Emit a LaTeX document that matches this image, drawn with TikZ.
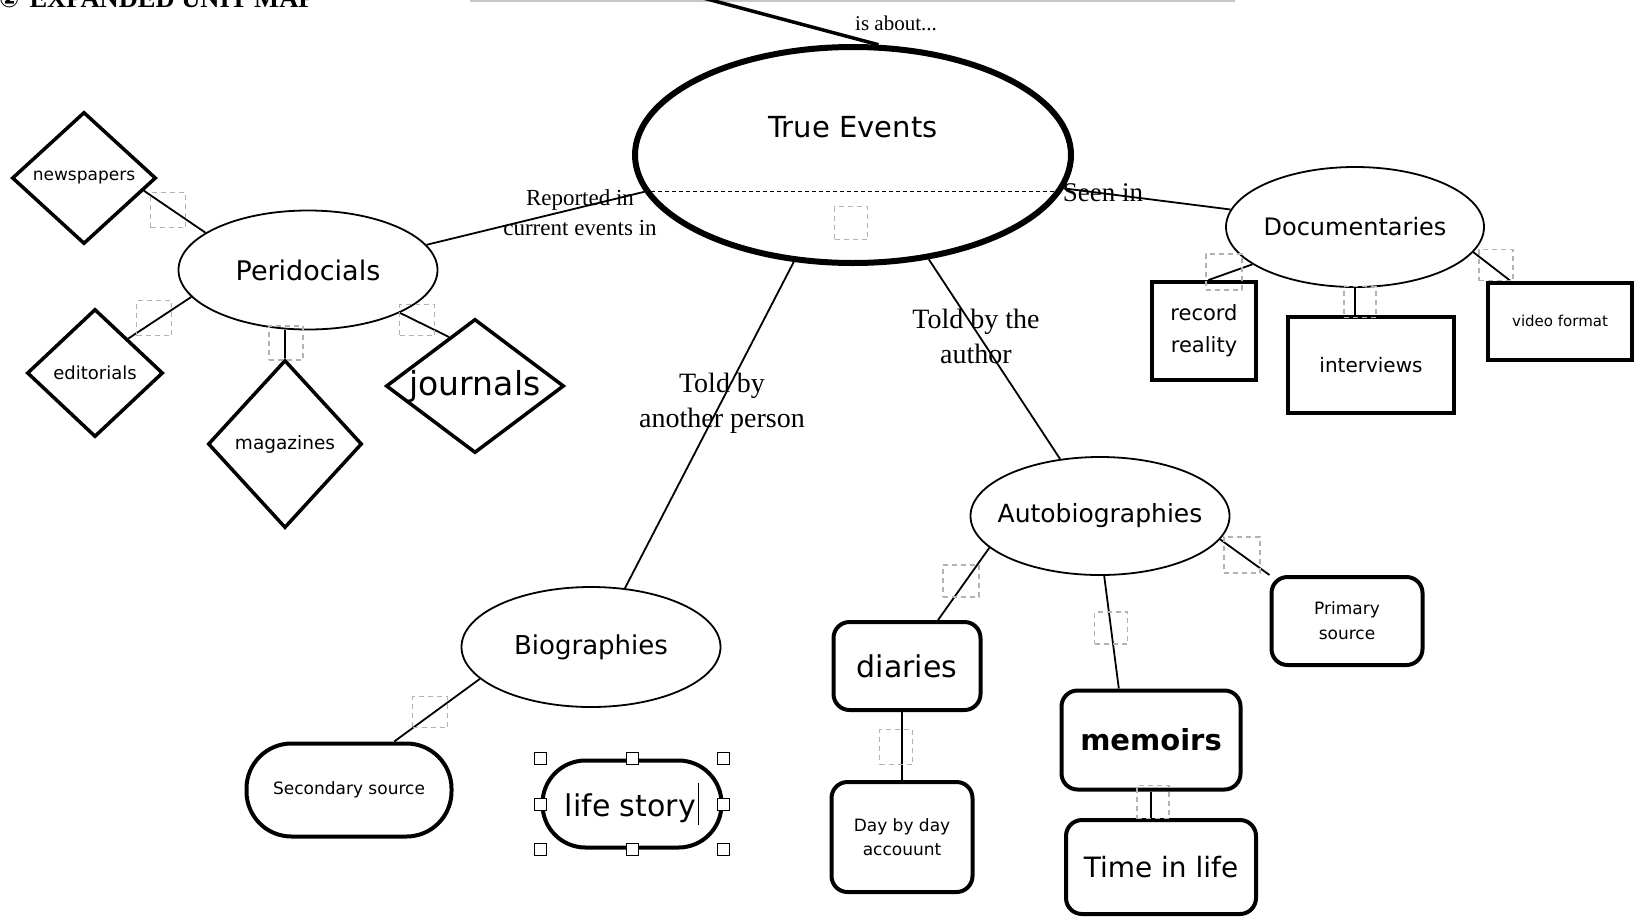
\documentclass[tikz,border=0pt]{standalone}
\usepackage{fontspec}
\setmainfont{DejaVu Sans}
\newfontfamily\lserif{Liberation Serif}
\newfontfamily\dejavu{DejaVu Sans}
\usetikzlibrary{shapes.geometric,calc}
\newcommand\fsz[1]{\fontsize{#1}{#1}\selectfont}
\tikzset{
  every node/.style={inner sep=0pt},
  ell/.style={ellipse, draw, line width=1.8pt},
  dia/.style={diamond, draw, line width=3.5pt},
  box/.style={rectangle, draw, line width=4pt},
  rbox/.style={rectangle, rounded corners=16pt, draw, line width=4pt},
  pill/.style={rectangle, draw, line width=4pt},
  conn/.style={line width=1.8pt},
  hot/.style={rectangle, draw=gray!60, dash pattern=on 5pt off 4pt, line width=1.3pt},
  handle/.style={rectangle, draw, fill=white, line width=1pt, minimum size=12pt},
  lbl/.style={align=center},
}
\begin{document}
\begin{tikzpicture}[x=1pt,y=-1pt]
\fill[white] (0,0) rectangle (1637,916);
\useasboundingbox (0,0) rectangle (1637,916);

% header (cut off at top, as in the reference)
\node[anchor=base west, font=\lserif\bfseries\fsz{26.5}] (hdr) at (-1,7) {{\dejavu\fsz{24}②}\hspace{10pt}EXPANDED UNIT MAP};
\draw[gray!45, line width=2pt] (470,1) -- (1235,1);

% central node
\node[ell, line width=6pt, minimum width=436pt, minimum height=216pt] (te) at (853,155) {};
\node[font=\fsz{29}] (tetext) at (853,127) {True Events};
\draw[dash pattern=on 4pt off 3pt, line width=1.2pt] (te.190) -- (te.350);
\node[hot, minimum width=33pt, minimum height=33pt] (tehs) at (851,223) {};
\coordinate (topend) at (692,-5);
\draw[line width=3.5pt] (topend) -- (te.77);
\node[font=\lserif\fsz{21}] (isabout) at (896,23) {is about...};

% Peridocials
\node[ell, minimum width=259pt, minimum height=119pt, font=\fsz{27}] (perid) at (308,270) {\makebox[0pt]{Peridocials}};
\node[dia, minimum width=144pt, minimum height=132pt, font=\fsz{17}] (news) at (84,178) {\makebox[0pt]{newspapers}};
\node[dia, minimum width=136pt, minimum height=128pt, font=\fsz{18}] (edit) at (95,373) {\makebox[0pt]{editorials}};
\node[dia, minimum width=154pt, minimum height=168pt, font=\fsz{18.5}] (mag) at (285,444) {\makebox[0pt]{magazines}};
\node[dia, minimum width=178pt, minimum height=134pt, font=\fsz{33}] (jour) at (475,386) {\makebox[0pt]{journals}};
\draw[conn] (news.-12) -- (perid.160);
\draw[conn] (edit.46) -- (perid.193);
\draw[conn] (mag.north) -- (mag.north |- perid.south);
\draw[conn] (jour.118) -- (perid.-25);
\node[hot, minimum width=35pt, minimum height=35pt] (hsnews) at (168,210) {};
\node[hot, minimum width=35pt, minimum height=35pt] (hsedit) at (154,318) {};
\node[hot, minimum width=34pt, minimum height=34pt] (hsmag) at (286,343) {};
\node[hot, minimum width=35pt, minimum height=31pt] (hsjour) at (417,320) {};
\draw[conn] (perid.12) -- (te.190);
\node[lbl, font=\lserif\fontsize{23}{30}\selectfont] (rep) at (580,213) {Reported in\\current events in};

% Documentaries
\node[ell, minimum width=258pt, minimum height=120pt, font=\fsz{24}] (doc) at (1355,227) {\makebox[0pt]{Documentaries}};
\draw[conn] (te.-9) -- (doc.172);
\node[font=\lserif\fsz{27}] (seen) at (1103,193) {Seen in};
\node[box, minimum width=104pt, minimum height=98pt, align=center, font=\fontsize{21}{32}\selectfont] (rec) at (1204,331) {record\\reality};
\node[box, minimum width=166pt, minimum height=96pt, font=\fsz{20}] (int) at (1371,365) {interviews};
\node[box, minimum width=144pt, minimum height=77pt, font=\fsz{15}] (vid) at (1560,321) {video format};
\draw[conn] (doc.200) -- (rec.85);
\draw[conn] (doc.south) -- (doc.south |- int.north);
\draw[conn] (doc.-12) -- (vid.141);
\node[hot, minimum width=36pt, minimum height=36pt] (hsrec) at (1224,272) {};
\node[hot, minimum width=32pt, minimum height=31pt] (hsint) at (1360,302) {};
\node[hot, minimum width=34pt, minimum height=31pt] (hsvid) at (1496,265) {};

% Autobiographies
\node[ell, minimum width=259pt, minimum height=118pt, font=\fsz{25}] (auto) at (1100,516) {\makebox[0pt]{Autobiographies}};
\draw[conn] (te.-54) -- (auto.125);
\node[lbl, font=\lserif\fontsize{28}{35}\selectfont] (tba) at (976,336) {Told by the\\author};
\node[rbox, minimum width=147pt, minimum height=88pt, font=\fsz{30}] (diar) at (907,666) {diaries};
\draw[conn] (auto.196) -- (diar.56);
\node[rbox, minimum width=141pt, minimum height=110pt, align=center, font=\fontsize{17}{24}\selectfont] (day) at (902,837) {Day by day\\accouunt};
\draw[conn] (day.north) -- (day.north |- diar.south);
\node[rbox, minimum width=179pt, minimum height=99pt, font=\bfseries\fsz{29}] (mem) at (1151,740) {memoirs};
\draw[conn] (auto.-86) -- (mem.122);
\node[rbox, minimum width=190pt, minimum height=94pt, font=\fsz{28}] (time) at (1161,867) {Time in life};
\draw[conn] (mem.south) -- (mem.south |- time.north);
\node[rbox, minimum width=151pt, minimum height=88pt, align=center, font=\fontsize{17}{25}\selectfont] (prim) at (1347,621) {Primary\\source};
\draw[conn] (auto.-11) -- (prim.north west);
\node[hot, minimum width=36pt, minimum height=32pt] (hsdiar) at (961,581) {};
\node[hot, minimum width=33pt, minimum height=35pt] (hsday) at (896,747) {};
\node[hot, minimum width=33pt, minimum height=32pt] (hsmem) at (1111,628) {};
\node[hot, minimum width=32pt, minimum height=33pt] (hstime) at (1153,802) {};
\node[hot, minimum width=36pt, minimum height=36pt] (hsprim) at (1242,555) {};

% Biographies
\node[ell, minimum width=259pt, minimum height=120pt, font=\fsz{26}] (bio) at (591,647) {\makebox[0pt]{Biographies}};
\draw[conn] (te.241) -- (bio.60);
\node[lbl, font=\lserif\fontsize{28}{35}\selectfont] (tbo) at (722,403) {Told by\\another person};
\node[pill, rounded corners=45pt, minimum width=205pt, minimum height=93pt, font=\fsz{17}] (sec) at (349,790) {Secondary source};
\draw[conn] (bio.196) -- (sec.47);
\node[hot, minimum width=35pt, minimum height=31pt] (hssec) at (430,712) {};
\node[pill, rounded corners=43pt, minimum width=179pt, minimum height=87pt, font=\fsz{30}] (life) at (632,804) {life story\hspace{2pt}\rule[-9pt]{1.4pt}{42pt}};
\node[handle] (h1) at (life.north west) {};
\node[handle] (h2) at (life.north) {};
\node[handle] (h3) at (life.north east) {};
\node[handle] (h4) at (life.west) {};
\node[handle] (h5) at (life.east) {};
\node[handle] (h6) at (life.south west) {};
\node[handle] (h7) at (life.south) {};
\node[handle] (h8) at (life.south east) {};
\end{tikzpicture}
\end{document}
